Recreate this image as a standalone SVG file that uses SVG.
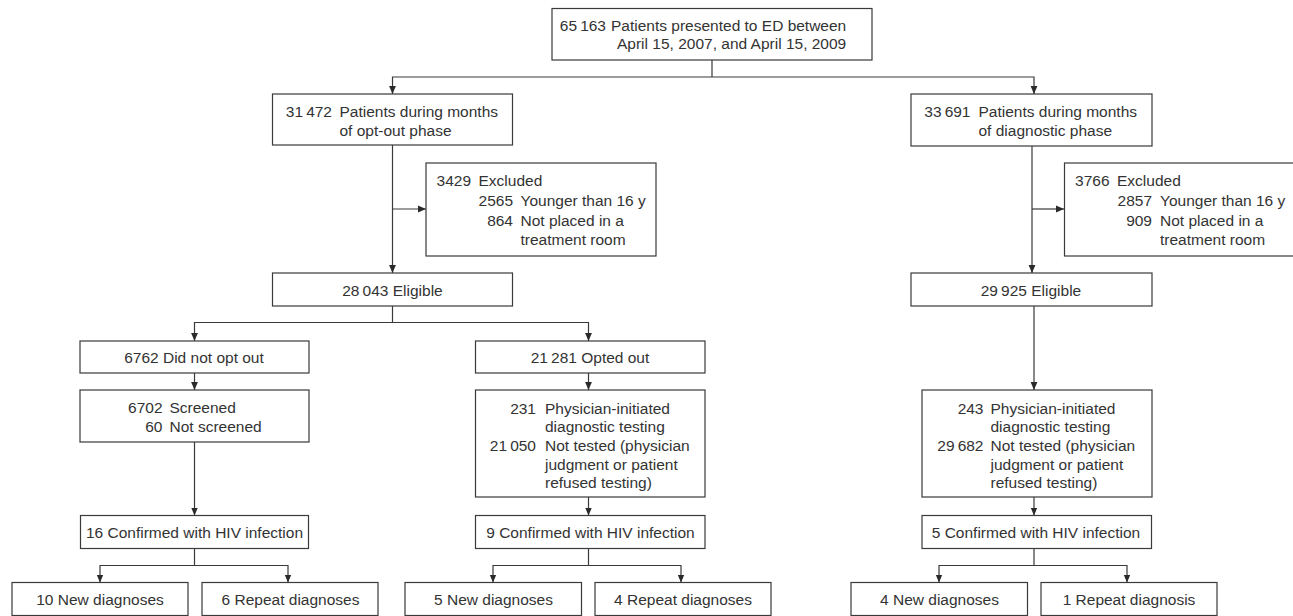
<svg xmlns="http://www.w3.org/2000/svg" width="1293" height="616" viewBox="0 0 1293 616">
<style>
.box{fill:#fff;stroke:#3a3a3a;stroke-width:1.2}
.t{font-family:"Liberation Sans",Arial,sans-serif;font-size:15.5px;fill:#333}
.e{text-anchor:end}
.m{text-anchor:middle}
.c{fill:none;stroke:#3a3a3a;stroke-width:1.2}
.a{marker-end:url(#ah)}
.b{marker-start:url(#ah);marker-end:url(#ah)}
</style>
<defs>
<marker id="ah" markerWidth="8" markerHeight="8" refX="8" refY="4" orient="auto-start-reverse" markerUnits="userSpaceOnUse">
<path d="M0,0.6 L8,4 L0,7.4 z" fill="#2a2a2a"/>
</marker>
</defs>
<g id="connectors">
<path class="c" d="M712,60 V77"/>
<path class="c b" d="M392.5,94 V77 H1034 V94"/>
<path class="c a" d="M392.5,145 V273"/>
<path class="c a" d="M392.5,209 H426"/>
<path class="c a" d="M1032,146 V273"/>
<path class="c a" d="M1032,209 H1064"/>
<path class="c" d="M392.5,306 V322.5"/>
<path class="c b" d="M194.5,341 V322.5 H588.5 V341"/>
<path class="c a" d="M194.5,373 V390"/>
<path class="c a" d="M588.5,373 V390"/>
<path class="c a" d="M1034,306 V390"/>
<path class="c a" d="M194.5,442 V515.5"/>
<path class="c a" d="M588.5,497 V515.5"/>
<path class="c a" d="M1034,497 V515.5"/>
<path class="c" d="M194.5,548 V565.5"/>
<path class="c b" d="M100,582.5 V565.5 H288 V582.5"/>
<path class="c" d="M588.5,548 V565.5"/>
<path class="c b" d="M493,582.5 V565.5 H681 V582.5"/>
<path class="c" d="M1034,548 V565.5"/>
<path class="c b" d="M939,582.5 V565.5 H1127 V582.5"/>
</g>
<g id="n-total">
<rect class="box" x="552" y="8.5" width="320" height="51.5"/>
<text class="t e" x="606" y="31">65&#8201;163</text>
<text class="t" x="611" y="31">Patients presented to ED between</text>
<text class="t" x="617" y="48.5">April 15, 2007, and April 15, 2009</text>
</g>
<g id="n-optout-phase">
<rect class="box" x="272.5" y="94" width="240" height="51"/>
<text class="t e" x="332" y="117">31&#8201;472</text>
<text class="t" x="339.5" y="117">Patients during months</text>
<text class="t" x="339.5" y="135.5">of opt-out phase</text>
</g>
<g id="n-diag-phase">
<rect class="box" x="911" y="94" width="241" height="52"/>
<text class="t e" x="970.5" y="117">33&#8201;691</text>
<text class="t" x="978.5" y="117">Patients during months</text>
<text class="t" x="978.5" y="135.5">of diagnostic phase</text>
</g>
<g id="n-excl-left">
<rect class="box" x="426" y="163" width="230" height="93"/>
<text class="t e" x="471" y="185.5">3429</text>
<text class="t" x="478.5" y="185.5">Excluded</text>
<text class="t e" x="513" y="205.5">2565</text>
<text class="t" x="520.5" y="205.5">Younger than 16 y</text>
<text class="t e" x="513" y="225.5">864</text>
<text class="t" x="520.5" y="225.5">Not placed in a</text>
<text class="t" x="520.5" y="244.5">treatment room</text>
</g>
<g id="n-excl-right">
<rect class="box" x="1064.5" y="163" width="240" height="93"/>
<text class="t e" x="1109.5" y="185.5">3766</text>
<text class="t" x="1117" y="185.5">Excluded</text>
<text class="t e" x="1152" y="205.5">2857</text>
<text class="t" x="1160" y="205.5">Younger than 16 y</text>
<text class="t e" x="1152" y="225.5">909</text>
<text class="t" x="1160" y="225.5">Not placed in a</text>
<text class="t" x="1160" y="244.5">treatment room</text>
</g>
<g id="n-elig-left">
<rect class="box" x="272.5" y="273" width="240" height="33"/>
<text class="t m" x="392.5" y="295.5">28&#8201;043 Eligible</text>
</g>
<g id="n-elig-right">
<rect class="box" x="911" y="273" width="241" height="33"/>
<text class="t m" x="1031" y="295.5">29&#8201;925 Eligible</text>
</g>
<g id="n-did-not-opt-out">
<rect class="box" x="80" y="341" width="229" height="32"/>
<text class="t m" x="194" y="363">6762 Did not opt out</text>
</g>
<g id="n-opted-out">
<rect class="box" x="475.5" y="341" width="229.5" height="32"/>
<text class="t m" x="590" y="363">21&#8201;281 Opted out</text>
</g>
<g id="n-screened">
<rect class="box" x="80" y="390" width="229" height="52"/>
<text class="t e" x="162.5" y="412.5">6702</text>
<text class="t" x="169.5" y="412.5">Screened</text>
<text class="t e" x="162.5" y="432">60</text>
<text class="t" x="169.5" y="432">Not screened</text>
</g>
<g id="n-phys-left">
<rect class="box" x="475.5" y="390" width="229.5" height="107"/>
<text class="t e" x="536" y="413.5">231</text>
<text class="t" x="545" y="413.5">Physician-initiated</text>
<text class="t" x="545" y="432">diagnostic testing</text>
<text class="t e" x="536" y="450.5">21&#8201;050</text>
<text class="t" x="545" y="450.5">Not tested (physician</text>
<text class="t" x="545" y="469.5">judgment or patient</text>
<text class="t" x="545" y="488">refused testing)</text>
</g>
<g id="n-phys-right">
<rect class="box" x="922" y="390" width="230" height="107"/>
<text class="t e" x="983.5" y="413.5">243</text>
<text class="t" x="990.5" y="413.5">Physician-initiated</text>
<text class="t" x="990.5" y="432">diagnostic testing</text>
<text class="t e" x="983.5" y="450.5">29&#8201;682</text>
<text class="t" x="990.5" y="450.5">Not tested (physician</text>
<text class="t" x="990.5" y="469.5">judgment or patient</text>
<text class="t" x="990.5" y="488">refused testing)</text>
</g>
<g id="n-conf-left">
<rect class="box" x="80.5" y="515.5" width="228" height="33"/>
<text class="t m" x="194.5" y="537.5">16 Confirmed with HIV infection</text>
</g>
<g id="n-conf-mid">
<rect class="box" x="475.5" y="515.5" width="229.5" height="33"/>
<text class="t m" x="590.5" y="537.5">9 Confirmed with HIV infection</text>
</g>
<g id="n-conf-right">
<rect class="box" x="922" y="515.5" width="229.5" height="33"/>
<text class="t m" x="1036" y="537.5">5 Confirmed with HIV infection</text>
</g>
<g id="n-new-left">
<rect class="box" x="12" y="582.5" width="176" height="33"/>
<text class="t m" x="100" y="604.5">10 New diagnoses</text>
</g>
<g id="n-repeat-left">
<rect class="box" x="202" y="582.5" width="176" height="33"/>
<text class="t m" x="290.5" y="604.5">6 Repeat diagnoses</text>
</g>
<g id="n-new-mid">
<rect class="box" x="405" y="582.5" width="176.5" height="33"/>
<text class="t m" x="493.5" y="604.5">5 New diagnoses</text>
</g>
<g id="n-repeat-mid">
<rect class="box" x="595" y="582.5" width="176" height="33"/>
<text class="t m" x="683" y="604.5">4 Repeat diagnoses</text>
</g>
<g id="n-new-right">
<rect class="box" x="851" y="582.5" width="176.5" height="33"/>
<text class="t m" x="939.5" y="604.5">4 New diagnoses</text>
</g>
<g id="n-repeat-right">
<rect class="box" x="1041" y="582.5" width="176" height="33"/>
<text class="t m" x="1129" y="604.5">1 Repeat diagnosis</text>
</g>
</svg>
